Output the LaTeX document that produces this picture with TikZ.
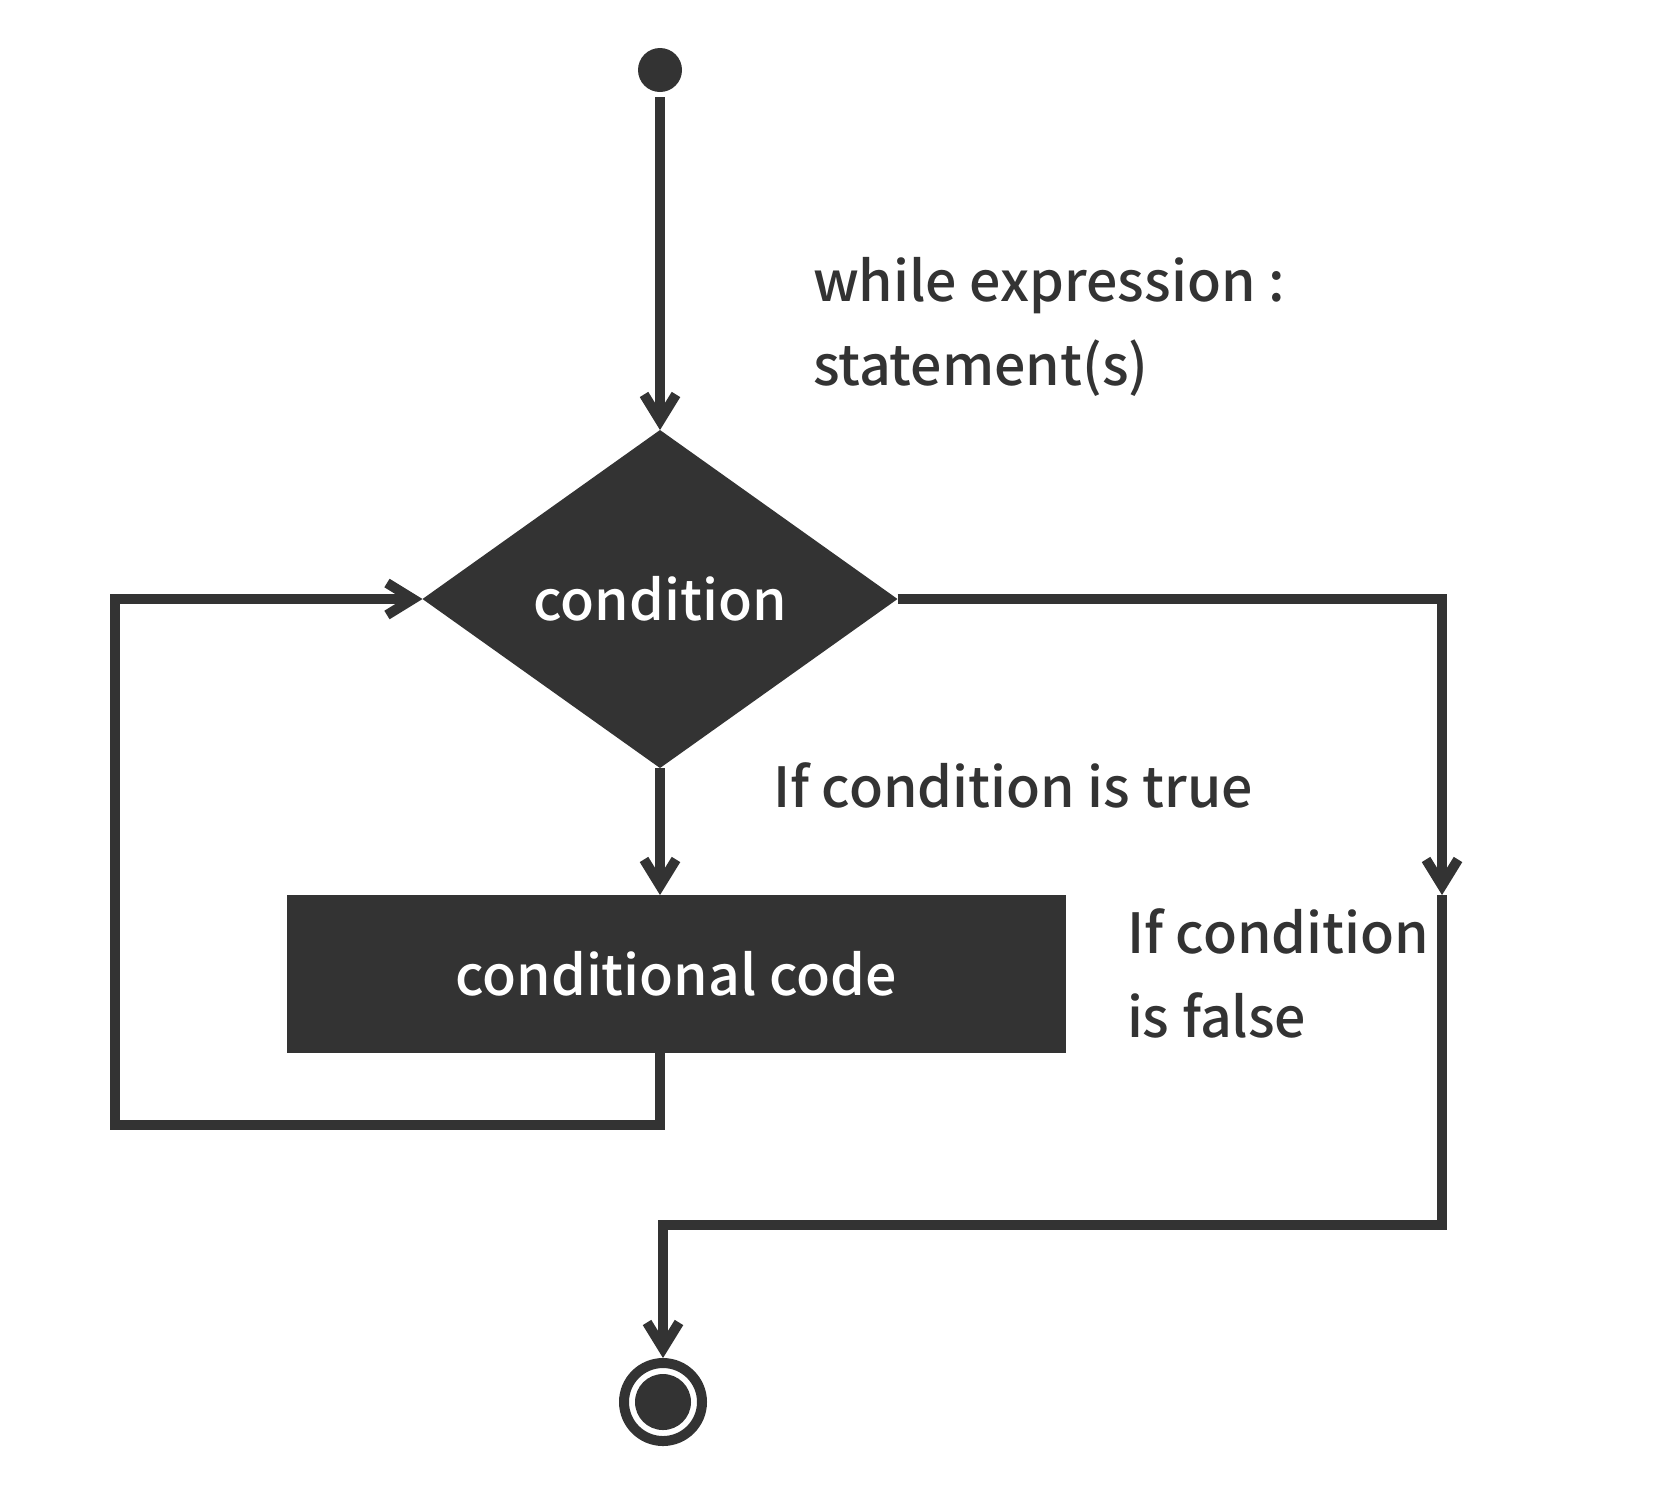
\documentclass[tikz,border=0pt]{standalone}
\usepackage{fontspec}
\usepackage{tikz}
\usetikzlibrary{shapes.geometric,arrows.meta}
\newfontfamily\labelfont{Noto Sans CJK SC Medium}
\definecolor{ink}{HTML}{333333}

\begin{document}
\begin{tikzpicture}[x=0.5pt,y=-0.5pt,line width=5pt,
        every node/.style={font=\labelfont\fontsize{27.7pt}{42pt}\selectfont},
        flow/.style={draw=ink,-{Straight Barb[length=13pt,width=16pt]}},
        decision/.style={diamond,fill=ink,text=white,inner sep=0pt,outer sep=0pt,
            minimum width=237.5pt,minimum height=169pt},
        process/.style={rectangle,fill=ink,text=white,inner sep=0pt,outer sep=0pt,
            minimum width=389.5pt,minimum height=79pt},
        note/.style={text=ink,inner sep=0pt,align=left},
        startdot/.style={circle,fill=ink,inner sep=0pt,minimum size=22pt},
        stopring/.style={circle,draw=ink,inner sep=0pt,minimum size=39pt}]
    \useasboundingbox (0,0) rectangle (1668,1496);
    \node[startdot] (start) at (660,70) {};
    \node[decision] (cond) at (660,599) {condition};
    \node[process] (body) at (676,974) {conditional code};
    \node[stopring] (stop) at (663,1402) {};
    \fill[ink] (stop.center) circle[radius=14pt];
    \coordinate (back) at (115,1125);
    \coordinate (falsearrow) at (1442,895);
    \coordinate (exit) at (663,1225);
    \draw[flow] (start) -- (cond.north);
    \draw[flow] (cond.south) -- (cond.south |- body.north);
    \draw[flow] (cond.south |- body.south) -- (cond.south |- back) -- (back)
        -- (back |- cond.west) -- (cond.west);
    \draw[flow] (cond.east) -| (falsearrow);
    \draw[flow] (falsearrow) |- (exit) -- (stop.north);
    \node[note,anchor=base west] (whilenote) at (808,385) {while expression :\\statement(s)};
    \node[note,anchor=base west] (truenote) at (768,807) {If condition is true};
    \node[note,anchor=base west] (falsenote) at (1122,1037) {If condition\\is false};
\end{tikzpicture}
\end{document}
